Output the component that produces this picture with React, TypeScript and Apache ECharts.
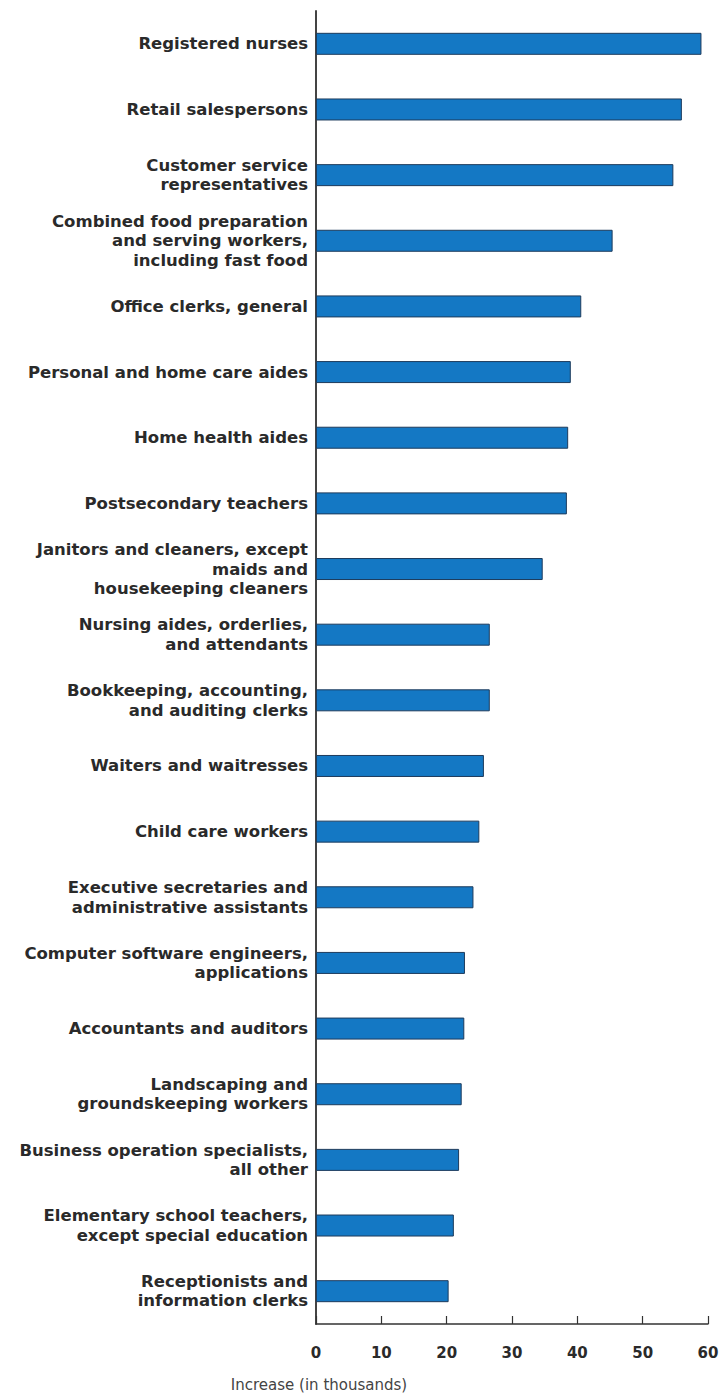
import React, { useEffect, useRef } from "react";
import * as echarts from "echarts";

const categories: string[] = [
  "Registered nurses",
  "Retail salespersons",
  "Customer service\nrepresentatives",
  "Combined food preparation\nand serving workers,\nincluding fast food",
  "Office clerks, general",
  "Personal and home care aides",
  "Home health aides",
  "Postsecondary teachers",
  "Janitors and cleaners, except\nmaids and\nhousekeeping cleaners",
  "Nursing aides, orderlies,\nand attendants",
  "Bookkeeping, accounting,\nand auditing clerks",
  "Waiters and waitresses",
  "Child care workers",
  "Executive secretaries and\nadministrative assistants",
  "Computer software engineers,\napplications",
  "Accountants and auditors",
  "Landscaping and\ngroundskeeping workers",
  "Business operation specialists,\nall other",
  "Elementary school teachers,\nexcept special education",
  "Receptionists and\ninformation clerks",
];

const increases: number[] = [
  59.0, 56.0, 54.7, 45.4, 40.6, 39.0, 38.6, 38.4, 34.7, 26.6,
  26.6, 25.7, 25.0, 24.1, 22.8, 22.7, 22.3, 21.9, 21.1, 20.3,
];

const xTicks = { min: 0, max: 60, interval: 10 };
const xAxisTitle = "Increase (in thousands)";

export default function App() {
  const ref = useRef<HTMLDivElement>(null);
  useEffect(() => {
    if (!ref.current) return;
    const chart = echarts.init(ref.current, undefined, { renderer: "svg" });
    const font = "'DejaVu Sans', Verdana, sans-serif";
    chart.setOption({
      animation: false,
      backgroundColor: "#ffffff",
      grid: { left: 316, right: 14, top: 11, bottom: 69, containLabel: false },
      xAxis: {
        type: "value",
        min: xTicks.min,
        max: xTicks.max,
        interval: xTicks.interval,
        axisLine: { show: true, lineStyle: { color: "#333", width: 1.5 } },
        axisTick: { show: true, inside: true, length: 8, lineStyle: { color: "#333", width: 1.2 } },
        splitLine: { show: false },
        axisLabel: {
          margin: 21,
          fontSize: 15,
          fontWeight: "bold",
          color: "#2a2a2a",
          fontFamily: font,
        },
      },
      yAxis: {
        type: "category",
        inverse: true,
        data: categories,
        axisLine: { show: true, lineStyle: { color: "#444", width: 2 } },
        axisTick: { show: false },
        splitLine: { show: false },
        axisLabel: {
          margin: 8,
          fontSize: 16.5,
          fontWeight: "bold",
          color: "#2a2a2a",
          fontFamily: font,
          align: "right",
          lineHeight: 19.5,
          interval: 0,
        },
      },
      graphic: [
        {
          type: "text",
          x: 319,
          y: 1385,
          style: {
            text: xAxisTitle,
            fill: "#444",
            fontSize: 15,
            fontFamily: font,
            align: "center",
            verticalAlign: "middle",
          },
        },
      ],
      series: [
        {
          type: "bar",
          data: increases,
          barWidth: 22,
          itemStyle: { color: "#1478c4", borderColor: "#1d3b5c", borderWidth: 1 },
        },
      ],
    });
    return () => chart.dispose();
  }, []);
  return <div ref={ref} style={{ position: "absolute", left: 0, top: 0, width: 722, height: 1393 }} />;
}
